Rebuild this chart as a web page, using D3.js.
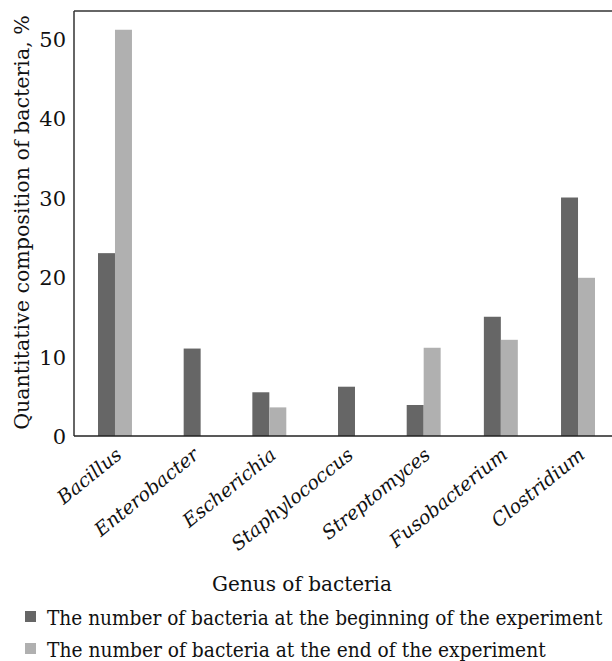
<!DOCTYPE html>
<html>
<head>
<meta charset="utf-8">
<script src="https://cdn.jsdelivr.net/npm/d3@7"></script>
<style>
  html, body { margin: 0; padding: 0; background: #fff; }
  svg { display: block; }
</style>
</head>
<body>
<svg id="chart" width="612" height="661"></svg>
<script>
const categories = ["Bacillus", "Enterobacter", "Escherichia", "Staphylococcus", "Streptomyces", "Fusobacterium", "Clostridium"];
const beginValues = [23, 11, 5.5, 6.2, 3.9, 15, 30];
const endValues = [51.1, null, 3.6, null, 11.1, 12.1, 19.9];
const seriesNames = ["The number of bacteria at the beginning of the experiment", "The number of bacteria at the end of the experiment"];
const seriesColors = ["#666666", "#b0b0b0"];
const yTicks = [0, 10, 20, 30, 40, 50];
const yMax = 53.46;
const xTitle = "Genus of bacteria";
const yTitle = "Quantitative composition of bacteria, %";

(function () {
const FONT = "'DejaVu Serif', 'Liberation Serif', serif";
const svg = d3.select("#chart").attr("font-family", FONT);
const mLeft = 74, mTop = 11, mBottom = 436, mRight = 612;

const x = d3.scaleBand().domain(categories).range([76.4, 616.6]).paddingInner(0.56).paddingOuter(0.28);
const y = d3.scaleLinear().domain([0, yMax]).range([mBottom, mTop]);

const rows = categories.map((c, i) => ({
  cat: c,
  vals: [beginValues[i], endValues[i]]
}));

const bars = [];
rows.forEach(r => {
  const present = r.vals.map((v, k) => ({v, k})).filter(d => d.v !== null && d.v !== undefined);
  const sub = d3.scaleBand().domain(present.map(d => d.k)).range(present.length === 2 ? [0, x.bandwidth()] : [x.bandwidth() / 4, x.bandwidth() * 3 / 4]);
  present.forEach(d => bars.push({cat: r.cat, k: d.k, v: d.v, x: x(r.cat) + sub(d.k), w: sub.bandwidth()}));
});

svg.append("g").selectAll("rect").data(bars).join("rect")
  .attr("x", d => d.x)
  .attr("width", d => d.w)
  .attr("y", d => y(d.v))
  .attr("height", d => y(0) - y(d.v))
  .attr("fill", d => seriesColors[d.k]);

// frame
svg.append("line").attr("x1", mLeft).attr("x2", mLeft).attr("y1", mTop).attr("y2", mBottom)
  .attr("stroke", "#333").attr("stroke-width", 1.5);
svg.append("line").attr("x1", mLeft).attr("x2", mRight).attr("y1", mTop).attr("y2", mTop)
  .attr("stroke", "#333").attr("stroke-width", 1.5);
svg.append("line").attr("x1", mLeft).attr("x2", mRight).attr("y1", mBottom).attr("y2", mBottom)
  .attr("stroke", "#222").attr("stroke-width", 1.5);

// y tick labels
svg.append("g").selectAll("text").data(yTicks).join("text")
  .attr("x", 66)
  .attr("y", d => y(d) + 8)
  .attr("text-anchor", "end")
  .attr("font-size", 21)
  .attr("fill", "#111")
  .text(d => d);

// category labels
svg.append("g").selectAll("text").data(categories).join("text")
  .attr("transform", d => `translate(${x(d) + x.bandwidth() / 2 + 8},457) rotate(-39)`)
  .attr("text-anchor", "end")
  .attr("font-size", 19)
  .attr("font-style", "italic")
  .attr("fill", "#111")
  .text(d => d);

// helper: fit text width by horizontal scaling
function fitWidth(sel, target) {
  const len = sel.node().getComputedTextLength();
  return len > 0 ? target / len : 1;
}

// axis titles
const yt = svg.append("text")
  .attr("text-anchor", "middle")
  .attr("font-size", 21)
  .attr("fill", "#111")
  .text(yTitle);
yt.attr("transform", `translate(29,${(15 + 430) / 2}) rotate(-90) scale(${fitWidth(yt, 415)},1)`);

const xt = svg.append("text")
  .attr("text-anchor", "middle")
  .attr("font-size", 21)
  .attr("fill", "#111")
  .text(xTitle);
xt.attr("transform", `translate(302,591) scale(${fitWidth(xt, 180)},1)`);

// legend
const legendLens = [556, 499];
const lg = svg.append("g").selectAll("g").data(seriesNames).join("g")
  .attr("transform", (d, i) => `translate(25,${611 + i * 32})`);
lg.append("rect").attr("width", 11).attr("height", 11).attr("fill", (d, i) => seriesColors[i]);
lg.append("text")
  .attr("font-size", 21)
  .attr("fill", "#111")
  .text(d => d)
  .each(function (d, i) {
    const t = d3.select(this);
    t.attr("transform", `translate(22,14) scale(${fitWidth(t, legendLens[i])},1)`);
  });
})();
</script>
</body>
</html>
